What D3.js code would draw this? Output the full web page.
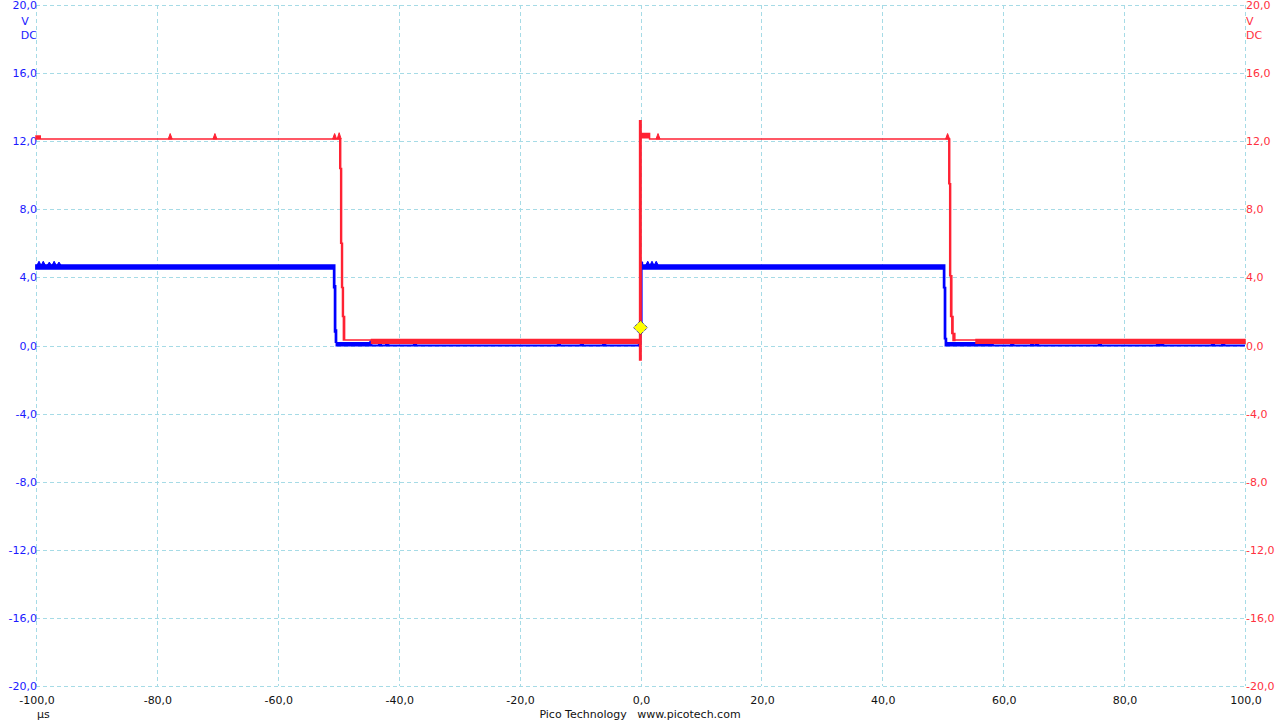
<!DOCTYPE html>
<html>
<head>
<meta charset="utf-8">
<script src="https://cdn.jsdelivr.net/npm/d3@7"></script>
<style>
	body { margin: 0; background: #ffffff; }
	svg { display: block; font-family: "DejaVu Sans", sans-serif; }
</style>
</head>
<body>
<div id="chart"></div>
<script>
"use strict";

// ---------- data ----------
var xTicks = [-100, -80, -60, -40, -20, 0, 20, 40, 60, 80, 100];
var yTicks = [20, 16, 12, 8, 4, 0, -4, -8, -12, -16, -20];

// channel A (blue), envelope of the trace held from each time to the next: time, min, max
var blueT  = [-100, -50.75, -50.6, -50.45, -50.3, -44.8, -0.3, -0.1, 0.0, 0.2, 0.3, 50.15, 50.3, 50.45, 50.6, 58.3, 100];
var blueLo = [4.5, 3.4, 0.8, 0.2, 0.0, 0.0, 0.0, 0.1, 0.8, 4.5, 4.5, 3.4, 0.4, 0.0, 0.0, 0.0, 0.0];
var blueHi = [4.72, 4.72, 3.5, 0.9, 0.15, 0.0, 0.15, 0.8, 4.9, 4.85, 4.72, 4.72, 3.4, 0.4, 0.15, 0.0, 0.0];
var blueSpikeT = [-99.5, -98.8, -97.8, -97.0, -96.2, 1.2, 1.9, 2.6, -44.7, -43.1, -41.9, -37.3, -13.5, -9.7, -6.0,
	55.8, 56.2, 57.3, 57.6, 58.0, 61.5, 64.8, 65.6, 76.0, 85.6, 86.3, 94.7, 96.4];
var blueSpikeB = [4.72, 4.72, 4.72, 4.72, 4.72, 4.72, 4.72, 4.72, 0.0, 0.0, 0.0, 0.0, 0.0, 0.0, 0.0,
	0.15, 0.15, 0.15, 0.15, 0.15, 0.0, 0.0, 0.0, 0.0, 0.0, 0.0, 0.0, 0.0];
var blueSpikeV = [4.95, 4.95, 4.9, 4.95, 4.9, 4.95, 4.95, 4.95, 0.3, 0.25, 0.3, 0.3, 0.3, 0.3, 0.3,
	0.35, 0.35, 0.35, 0.35, 0.35, 0.3, 0.3, 0.3, 0.3, 0.3, 0.3, 0.3, 0.3];

// channel B (red), same layout
var redT  = [-100, -99.3, -49.75, -49.6, -49.45, -49.3, -49.15, -48.95, -44.5, -0.15, 0.1, 1.5, 51.0, 51.15, 51.3, 51.5, 51.7, 52.0, 55.5, 100];
var redLo = [12.13, 12.13, 10.4, 6.0, 3.4, 1.7, 0.33, 0.33, 0.13, -0.85, 12.2, 12.13, 9.5, 4.1, 1.7, 0.7, 0.3, 0.33, 0.13, 0.13];
var redHi = [12.3, 12.13, 12.13, 10.4, 6.0, 3.4, 1.7, 0.33, 0.35, 13.2, 12.45, 12.13, 12.13, 9.5, 4.1, 1.7, 0.7, 0.33, 0.35, 0.35];
var redSpikeT = [-77.8, -70.4, -50.6, -49.85, 2.9, 50.8];
var redSpikeB = [12.13, 12.13, 12.13, 12.13, 12.13, 12.13];
var redSpikeV = [12.45, 12.45, 12.45, 12.5, 12.45, 12.45];

var triggerT = 0, triggerV = 1.05;

// ---------- layout ----------
var width = 1280, height = 720;
var plotLeft = 36, plotRight = 1245, plotTop = 5, plotBottom = 686;
var blueCol = "#0000ff", redCol = "#ff2233",
	blueText = "#1a1aff", redText = "#ff3040",
	gridCol = "#a6dbe6";

var svg = d3.select("#chart").append("svg")
	.attr("width", width)
	.attr("height", height);

var x = d3.scaleLinear().domain([-100, 100]).range([plotLeft, plotRight]);
var y = d3.scaleLinear().domain([-20, 20]).range([plotBottom, plotTop]);

// grid
svg.append("g").selectAll("line.v")
	.data(xTicks).enter().append("line")
	.attr("x1", function(d){ return Math.round(x(d)) + 0.5; })
	.attr("x2", function(d){ return Math.round(x(d)) + 0.5; })
	.attr("y1", plotTop).attr("y2", plotBottom)
	.attr("stroke", gridCol).attr("stroke-dasharray", "4,3");
svg.append("g").selectAll("line.h")
	.data(yTicks).enter().append("line")
	.attr("y1", function(d){ return Math.round(y(d)) + 0.5; })
	.attr("y2", function(d){ return Math.round(y(d)) + 0.5; })
	.attr("x1", plotLeft).attr("x2", plotRight)
	.attr("stroke", gridCol).attr("stroke-dasharray", "4,3");

function fmt(d){ return d3.format(".1f")(d).replace(".", ",").replace("−", "-"); }

// left axis (channel A)
svg.append("g").selectAll("text")
	.data(yTicks).enter().append("text")
	.attr("x", plotLeft + 1).attr("y", function(d){ return y(d) + 4; })
	.attr("text-anchor", "end")
	.style("font-size", "11px").style("fill", blueText)
	.text(fmt);
svg.append("text").attr("x", 25).attr("y", 25).attr("text-anchor", "middle")
	.style("font-size", "11px").style("fill", blueText).text("V");
svg.append("text").attr("x", plotLeft + 1).attr("y", 39).attr("text-anchor", "end")
	.style("font-size", "11px").style("fill", blueText).text("DC");

// right axis (channel B)
svg.append("g").selectAll("text")
	.data(yTicks).enter().append("text")
	.attr("x", plotRight + 1).attr("y", function(d){ return y(d) + 4; })
	.attr("text-anchor", "start")
	.style("font-size", "11px").style("fill", redText)
	.text(fmt);
svg.append("text").attr("x", plotRight + 1).attr("y", 25)
	.style("font-size", "11px").style("fill", redText).text("V");
svg.append("text").attr("x", plotRight + 1).attr("y", 39)
	.style("font-size", "11px").style("fill", redText).text("DC");

// bottom axis
svg.append("g").selectAll("text")
	.data(xTicks).enter().append("text")
	.attr("x", function(d){ return x(d) + 1; }).attr("y", 704)
	.attr("text-anchor", "middle")
	.style("font-size", "11px").style("fill", "#111111")
	.text(fmt);
svg.append("text").attr("x", 37).attr("y", 718)
	.style("font-size", "11px").style("fill", "#111111").text("µs");
svg.append("text").attr("x", 640).attr("y", 718).attr("text-anchor", "middle")
	.style("font-size", "11px").style("fill", "#111111")
	.attr("xml:space", "preserve")
	.text("Pico Technology   www.picotech.com");

// traces
function drawTrace(T, lo, hi, sT, sB, sV, col, w){
	var pts = T.map(function(t, i){ return {t: t, lo: lo[i], hi: hi[i]}; });
	var area = d3.area()
		.curve(d3.curveStepAfter)
		.x(function(d){ return x(d.t); })
		.y0(function(d){ return y(d.lo); })
		.y1(function(d){ return y(d.hi); });
	var g = svg.append("g");
	g.append("path").datum(pts)
		.attr("d", area)
		.attr("fill", col)
		.attr("stroke", col)
		.attr("stroke-width", w)
		.attr("stroke-linejoin", "miter");
	g.selectAll("path.spike")
		.data(sT).enter().append("path")
		.attr("class", "spike")
		.attr("d", function(t, i){
			return "M" + (x(t) - 2) + "," + y(sB[i]) + "L" + x(t) + "," + y(sV[i]) + "L" + (x(t) + 2) + "," + y(sB[i]) + "Z";
		})
		.attr("fill", col)
		.attr("stroke", col)
		.attr("stroke-width", 1);
}

drawTrace(blueT, blueLo, blueHi, blueSpikeT, blueSpikeB, blueSpikeV, blueCol, 1.8);
drawTrace(redT, redLo, redHi, redSpikeT, redSpikeB, redSpikeV, redCol, 1.5);

// trigger marker
var tx = x(triggerT), ty = y(triggerV);
svg.append("path")
	.attr("d", "M" + tx + "," + (ty - 7) + "L" + (tx + 7) + "," + ty + "L" + tx + "," + (ty + 7) + "L" + (tx - 7) + "," + ty + "Z")
	.attr("fill", "#ffff00")
	.attr("stroke", "#0000aa")
	.attr("stroke-width", 1)
	.attr("stroke-dasharray", "1,1");
</script>
</body>
</html>
